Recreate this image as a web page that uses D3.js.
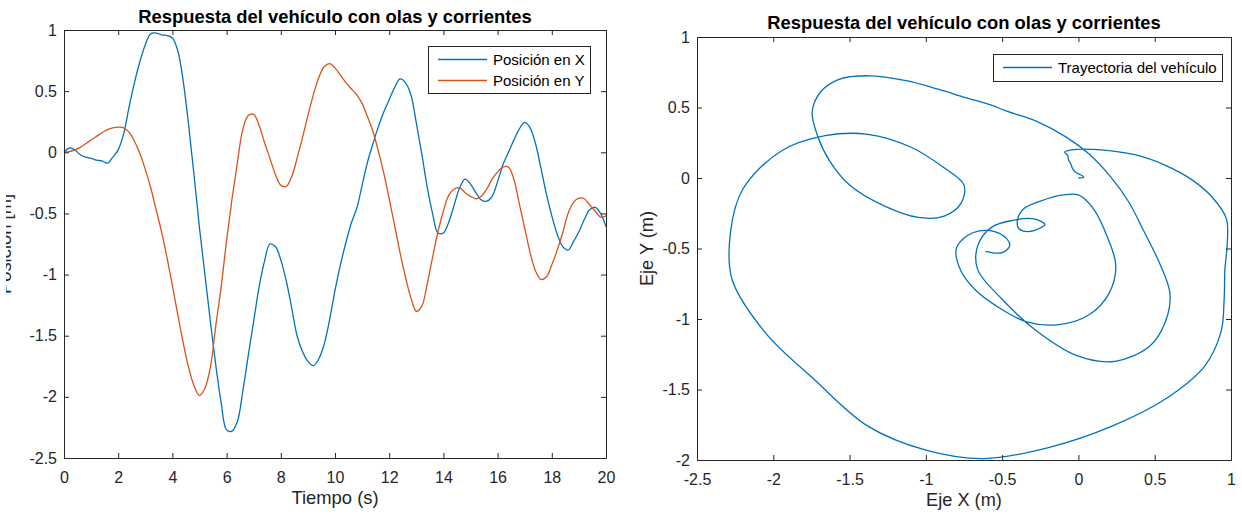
<!DOCTYPE html>
<html>
<head>
<meta charset="utf-8">
<script src="https://cdn.jsdelivr.net/npm/d3@7"></script>
<style>
  html, body { margin: 0; padding: 0; background: #fff; }
  svg { display: block; font-family: "Liberation Sans", Arial, Helvetica, sans-serif; }
</style>
</head>
<body>
<svg id="fig" width="1242" height="517"></svg>
<script>
// Sample instants (s)
const time = [
  0, 0.2, 0.4, 0.6, 0.8, 1, 1.2, 1.4, 1.6, 1.8,
  2, 2.2, 2.4, 2.6, 2.8, 3, 3.2, 3.4, 3.6, 3.8,
  4, 4.2, 4.4, 4.6, 4.8, 5, 5.2, 5.4, 5.6, 5.8,
  6, 6.2, 6.4, 6.6, 6.8, 7, 7.2, 7.4, 7.6, 7.8,
  8, 8.2, 8.4, 8.6, 8.8, 9, 9.2, 9.4, 9.6, 9.8,
  10, 10.2, 10.4, 10.6, 10.8, 11, 11.2, 11.4, 11.6, 11.8,
  12, 12.2, 12.4, 12.6, 12.8, 13, 13.2, 13.4, 13.6, 13.8,
  14, 14.2, 14.4, 14.6, 14.8, 15, 15.2, 15.4, 15.6, 15.8,
  16, 16.2, 16.4, 16.6, 16.8, 17, 17.2, 17.4, 17.6, 17.8,
  18, 18.2, 18.4, 18.6, 18.8, 19, 19.2, 19.4, 19.6, 19.8,
  20
];

// Vehicle position along X (m)
const posX = [
  0.00, 0.035, 0.02, -0.02, -0.04, -0.05, -0.065, -0.07, -0.09, -0.04,
  0.02, 0.15, 0.37, 0.57, 0.74, 0.88, 0.97, 0.975, 0.96, 0.955,
  0.935, 0.83, 0.58, 0.22, -0.19, -0.62, -1.00, -1.38, -1.74, -2.05,
  -2.27, -2.28, -2.20, -1.95, -1.66, -1.38, -1.10, -0.89, -0.75, -0.77,
  -0.88, -1.05, -1.27, -1.50, -1.63, -1.71, -1.745, -1.69, -1.57, -1.37,
  -1.13, -0.92, -0.74, -0.58, -0.46, -0.27, -0.08, 0.07, 0.21, 0.33,
  0.43, 0.53, 0.60, 0.57, 0.47, 0.24, -0.01, -0.28, -0.50, -0.66,
  -0.66, -0.57, -0.43, -0.29, -0.22, -0.26, -0.33, -0.39, -0.40, -0.36,
  -0.24, -0.10, 0.00, 0.10, 0.19, 0.245, 0.20, 0.07, -0.13, -0.34,
  -0.52, -0.67, -0.77, -0.80, -0.73, -0.65, -0.55, -0.47, -0.45, -0.50,
  -0.61
];

// Vehicle position along Y (m)
const posY = [
  0.00, 0.005, 0.02, 0.04, 0.07, 0.10, 0.13, 0.16, 0.185, 0.20,
  0.205, 0.20, 0.165, 0.09, -0.01, -0.14, -0.29, -0.47, -0.65, -0.86,
  -1.09, -1.33, -1.56, -1.76, -1.91, -1.99, -1.93, -1.76, -1.42, -1.10,
  -0.72, -0.38, -0.08, 0.19, 0.30, 0.31, 0.22, 0.08, -0.05, -0.18,
  -0.27, -0.28, -0.20, -0.05, 0.12, 0.30, 0.47, 0.61, 0.70, 0.725,
  0.69, 0.63, 0.57, 0.52, 0.47, 0.40, 0.29, 0.17, 0.01, -0.17,
  -0.38, -0.60, -0.82, -1.02, -1.19, -1.30, -1.26, -1.08, -0.86, -0.65,
  -0.48, -0.35, -0.30, -0.29, -0.33, -0.36, -0.38, -0.36, -0.30, -0.22,
  -0.16, -0.12, -0.12, -0.22, -0.42, -0.62, -0.82, -0.97, -1.04, -1.02,
  -0.92, -0.80, -0.66, -0.50, -0.41, -0.375, -0.38, -0.43, -0.48, -0.53,
  -0.52
];

// Axis ticks
const timeTicks = [0, 2, 4, 6, 8, 10, 12, 14, 16, 18, 20];
const posTicks = [-2.5, -2, -1.5, -1, -0.5, 0, 0.5, 1];
const ejeXTicks = [-2.5, -2, -1.5, -1, -0.5, 0, 0.5, 1];
const ejeYTicks = [-2, -1.5, -1, -0.5, 0, 0.5, 1];

// Texts
const titleText = "Respuesta del vehículo con olas y corrientes";
const seriesNames = ["Posición en X", "Posición en Y"];
const trajName = "Trayectoria del vehículo";

const BLUE = "#0072BD", ORANGE = "#D95319", AXC = "#262626";
const FONT = '"Liberation Sans", Arial, Helvetica, sans-serif';

const svg = d3.select("#fig");
svg.append("rect").attr("width", 1242).attr("height", 517).attr("fill", "#fff");

// Boxed axes with inward ticks on all four sides
function frame(g, x, y, w, h, xt, yt) {
  const fmt = d => String(d);
  const axes = [
    g.append("g").attr("transform", `translate(0,${h})`)
      .call(d3.axisBottom(x).tickValues(xt).tickSize(-5).tickSizeOuter(0).tickPadding(14).tickFormat(fmt)),
    g.append("g")
      .call(d3.axisTop(x).tickValues(xt).tickSize(-5).tickSizeOuter(0).tickFormat("")),
    g.append("g")
      .call(d3.axisLeft(y).tickValues(yt).tickSize(-5).tickSizeOuter(0).tickPadding(7).tickFormat(fmt)),
    g.append("g").attr("transform", `translate(${w},0)`)
      .call(d3.axisRight(y).tickValues(yt).tickSize(-5).tickSizeOuter(0).tickFormat(""))
  ];
  axes.forEach(a => {
    a.attr("font-family", FONT).attr("font-size", 16);
    a.select(".domain").attr("stroke", AXC).attr("stroke-width", 1);
    a.selectAll(".tick line").attr("stroke", AXC).attr("stroke-width", 1);
    a.selectAll(".tick text").attr("fill", AXC);
  });
}

function legend(g, items, w, h, rowGap) {
  g.append("rect").attr("x", 0.5).attr("y", 0.5).attr("width", w).attr("height", h)
    .attr("fill", "#fff").attr("stroke", AXC).attr("stroke-width", 1);
  items.forEach((it, i) => {
    const cy = 13.5 + i * rowGap;
    g.append("line").attr("x1", 10).attr("x2", 59).attr("y1", cy).attr("y2", cy)
      .attr("stroke", it.color).attr("stroke-width", 1.3);
    g.append("text").attr("x", 65).attr("y", cy).attr("dy", "0.36em")
      .attr("font-size", 15).attr("fill", "#000").text(it.name);
  });
}

// ---------- Time response panel ----------
const L = { left: 64, top: 30, width: 542, height: 428 };
const gL = svg.append("g").attr("transform", `translate(${L.left},${L.top})`);
const xT = d3.scaleLinear().domain([0, 20]).range([0, L.width]);
const yP = d3.scaleLinear().domain([-2.5, 1]).range([L.height, 0]);

const seriesX = time.map((t, i) => [t, posX[i]]);
const seriesY = time.map((t, i) => [t, posY[i]]);
const lineT = d3.line().x(d => xT(d[0])).y(d => yP(d[1])).curve(d3.curveCatmullRom.alpha(0.5));

gL.append("path").datum(seriesX).attr("d", lineT)
  .attr("fill", "none").attr("stroke", BLUE).attr("stroke-width", 1.3);
gL.append("path").datum(seriesY).attr("d", lineT)
  .attr("fill", "none").attr("stroke", ORANGE).attr("stroke-width", 1.3);

frame(gL, xT, yP, L.width, L.height, timeTicks, posTicks);

svg.append("text").attr("x", L.left + L.width / 2).attr("y", 23)
  .attr("text-anchor", "middle").attr("font-weight", "bold").attr("font-size", 18.4)
  .attr("fill", "#000").text(titleText);
svg.append("text").attr("x", L.left + L.width / 2).attr("y", 504)
  .attr("text-anchor", "middle").attr("font-size", 18.4)
  .attr("fill", AXC).text("Tiempo (s)");

// y label runs past the left edge of the figure
svg.append("clipPath").attr("id", "ylabClip")
  .append("rect").attr("x", 6).attr("y", 0).attr("width", 60).attr("height", 517);
svg.append("g").attr("clip-path", "url(#ylabClip)")
  .append("text").attr("transform", `translate(10.5,${L.top + L.height / 2}) rotate(-90)`)
  .attr("text-anchor", "middle").attr("font-size", 18.4)
  .attr("fill", AXC).text("Posición [m]");

legend(svg.append("g").attr("transform", "translate(428,46)"),
  [{ name: seriesNames[0], color: BLUE }, { name: seriesNames[1], color: ORANGE }], 162, 47, 21);

// ---------- Trajectory panel ----------
const R = { left: 697, top: 37, width: 534, height: 423 };
const gR = svg.append("g").attr("transform", `translate(${R.left},${R.top})`);
const xE = d3.scaleLinear().domain([-2.5, 1]).range([0, R.width]);
const yE = d3.scaleLinear().domain([-2, 1]).range([R.height, 0]);

const traj = posX.map((v, i) => [v, posY[i]]);
const lineXY = d3.line().x(d => xE(d[0])).y(d => yE(d[1])).curve(d3.curveCatmullRom.alpha(0.5));
gR.append("path").datum(traj).attr("d", lineXY)
  .attr("fill", "none").attr("stroke", BLUE).attr("stroke-width", 1.3);

frame(gR, xE, yE, R.width, R.height, ejeXTicks, ejeYTicks);

svg.append("text").attr("x", R.left + R.width / 2).attr("y", 29)
  .attr("text-anchor", "middle").attr("font-weight", "bold").attr("font-size", 18.4)
  .attr("fill", "#000").text(titleText);
svg.append("text").attr("x", R.left + R.width / 2).attr("y", 506)
  .attr("text-anchor", "middle").attr("font-size", 18.2)
  .attr("fill", AXC).text("Eje X (m)");
svg.append("text").attr("transform", `translate(653,${R.top + R.height / 2}) rotate(-90)`)
  .attr("text-anchor", "middle").attr("font-size", 18.2)
  .attr("fill", AXC).text("Eje Y (m)");

legend(svg.append("g").attr("transform", "translate(993,54)"),
  [{ name: trajName, color: BLUE }], 229, 27, 0);
</script>
</body>
</html>
